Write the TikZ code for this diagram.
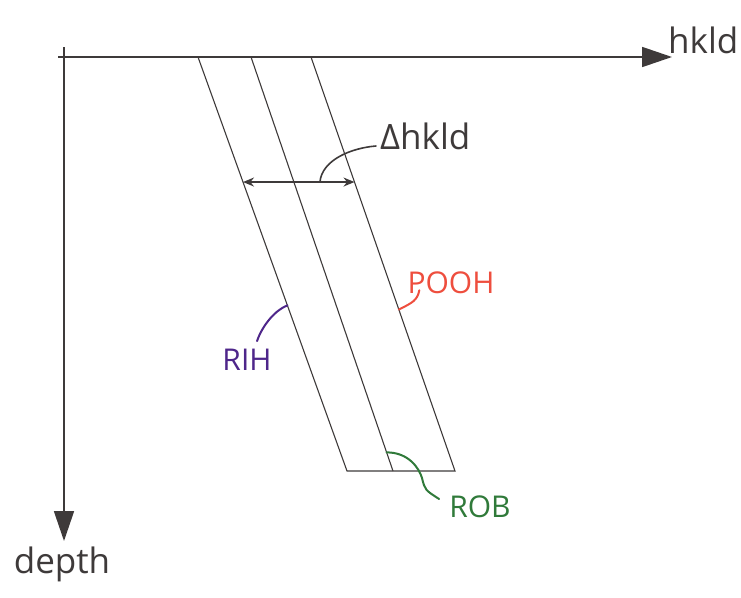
\documentclass[tikz,border=0pt]{standalone}
\usepackage{fontspec}
\setmainfont{Open Sans}
\usepackage{xcolor}
\usepackage{tikz}
\usetikzlibrary{arrows.meta,positioning,calc}
\definecolor{pencil}{RGB}{62,58,58}
\definecolor{rihcol}{RGB}{78,38,138}
\definecolor{poohcol}{RGB}{238,78,62}
\definecolor{robcol}{RGB}{48,122,58}

\begin{document}
\begin{tikzpicture}[x=1pt, y=-1pt,
  axis/.style={draw=pencil, line width=1.8pt, -{Triangle[length=30pt,width=20pt]}},
  wall/.style={draw=pencil, line width=1.1pt},
  lbl/.style={font=\fontsize{35}{40}\selectfont, inner sep=0pt, text=pencil},
  caplbl/.style={font=\fontsize{30}{36}\selectfont, inner sep=0pt},
  lead/.style={line width=2pt, line cap=round},
  dbl/.style={draw=pencil, line width=1.4pt, {Stealth[length=11pt,width=9pt]}-{Stealth[length=11pt,width=9pt]}}
]
\useasboundingbox (0,0) rectangle (741,597);
% axes
\coordinate (xstart) at (58,57);
\coordinate (ystart) at (64,47);
\coordinate (xend) at (672,57);
\coordinate (yend) at (64,541);
\draw[axis] (xstart) -- (xend);
\draw[axis] (ystart) -- (yend);
\node[lbl, anchor=west] (hkld) at (668,40) {hkld};
\node[lbl] (depth) at (62,564) {depth};
% slanted walls
\coordinate (l1t) at (198,57);  \coordinate (l1b) at (347,471);
\coordinate (l2t) at (251,57);  \coordinate (l2b) at (393,471);
\coordinate (l3t) at (311,57);  \coordinate (l3b) at (455,471);
\draw[wall] (l1t) -- (l1b) -- (l3b) -- (l3t);
\draw[wall] (l2t) -- (l2b);
% width arrow
\coordinate (dl) at ($(l1t)!0.302!(l1b)$);
\coordinate (dr) at ($(l3t)!0.302!(l3b)$);
\draw[dbl] (dl) -- (dr);
\coordinate (dm) at ($(dl)!0.69!(dr)$);
\node[lbl, anchor=west] (dhkld) at (380,136) {Δhkld};
\draw[lead, draw=pencil, line width=1.6pt] (dm) .. controls ++(2,-22) and ++(-25,2) .. ($(dhkld.west)+(-4,10)$);
% labels
\node[caplbl, text=poohcol] (pooh) at (451,283) {POOH};
\coordinate (poohp) at ($(l3t)!0.61!(l3b)$);
\draw[lead, draw=poohcol] (poohp) .. controls ++(14,-7) and ++(-2,10) .. ($(pooh.south west)+(12,-4)$);
\node[caplbl, text=rihcol] (rih) at (247,360) {RIH};
\coordinate (rihp) at ($(l1t)!0.6!(l1b)$);
\draw[lead, draw=rihcol] (rihp) .. controls ++(-15,6) and ++(4,-12) .. ($(rih.north)+(10,-8)$);
\node[caplbl, text=robcol] (rob) at (480,507) {ROB};
\coordinate (robp) at ($(l2t)!0.955!(l2b)$);
\draw[lead, draw=robcol] (robp) .. controls ++(22,0) and ++(-3,-10) .. (422,478) .. controls ++(3,12) .. ($(rob.west)+(-10,-8)$);
\end{tikzpicture}
\end{document}
